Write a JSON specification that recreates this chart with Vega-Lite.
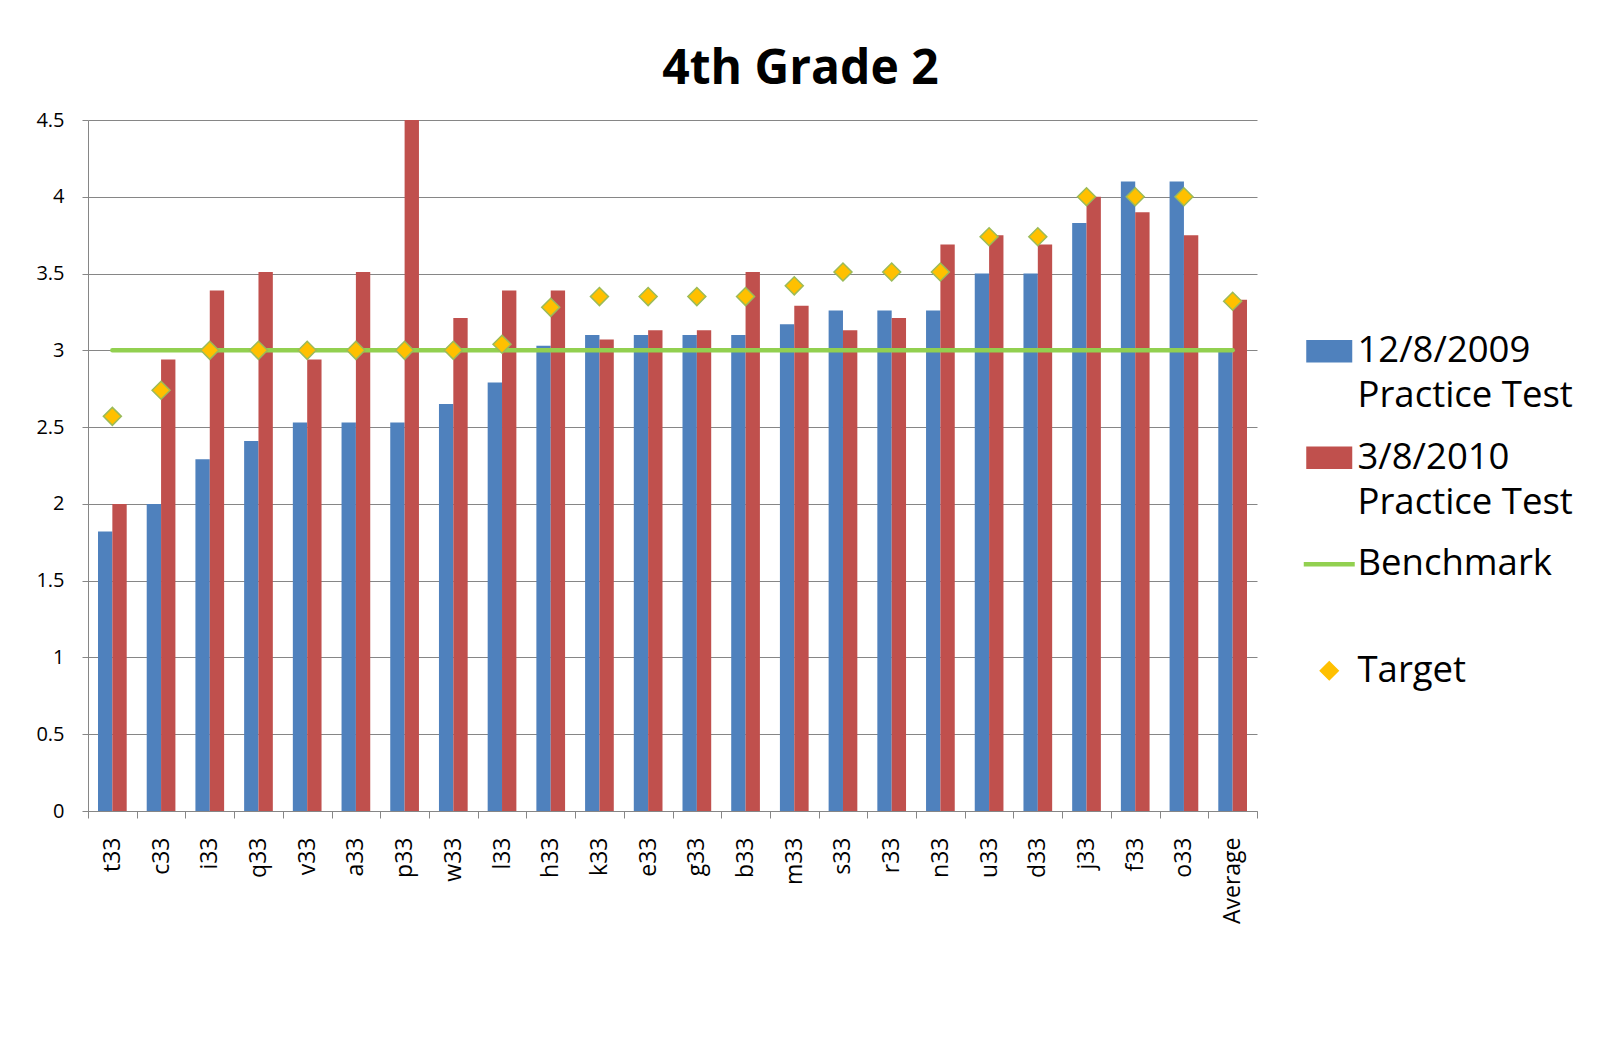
{
  "$schema": "https://vega.github.io/schema/vega-lite/v6.json",
  "width": 1169,
  "height": 691,
  "autosize": {"type": "none"},
  "padding": {"left": 88, "top": 120, "right": 362, "bottom": 228},
  "background": "white",
  "title": {"text": "4th Grade 2", "font": "Open Sans", "fontSize": 48, "fontWeight": "bold", "color": "black", "anchor": "middle", "dx": 128, "dy": 59, "baseline": "alphabetic", "offset": 37},
  "datasets": {
    "bars": [
      {"cat": "t33", "series": "12/8/2009 Practice Test", "score": 1.82},
      {"cat": "t33", "series": "3/8/2010 Practice Test", "score": 2.0},
      {"cat": "c33", "series": "12/8/2009 Practice Test", "score": 2.0},
      {"cat": "c33", "series": "3/8/2010 Practice Test", "score": 2.94},
      {"cat": "i33", "series": "12/8/2009 Practice Test", "score": 2.29},
      {"cat": "i33", "series": "3/8/2010 Practice Test", "score": 3.39},
      {"cat": "q33", "series": "12/8/2009 Practice Test", "score": 2.41},
      {"cat": "q33", "series": "3/8/2010 Practice Test", "score": 3.51},
      {"cat": "v33", "series": "12/8/2009 Practice Test", "score": 2.53},
      {"cat": "v33", "series": "3/8/2010 Practice Test", "score": 2.94},
      {"cat": "a33", "series": "12/8/2009 Practice Test", "score": 2.53},
      {"cat": "a33", "series": "3/8/2010 Practice Test", "score": 3.51},
      {"cat": "p33", "series": "12/8/2009 Practice Test", "score": 2.53},
      {"cat": "p33", "series": "3/8/2010 Practice Test", "score": 4.5},
      {"cat": "w33", "series": "12/8/2009 Practice Test", "score": 2.65},
      {"cat": "w33", "series": "3/8/2010 Practice Test", "score": 3.21},
      {"cat": "l33", "series": "12/8/2009 Practice Test", "score": 2.79},
      {"cat": "l33", "series": "3/8/2010 Practice Test", "score": 3.39},
      {"cat": "h33", "series": "12/8/2009 Practice Test", "score": 3.03},
      {"cat": "h33", "series": "3/8/2010 Practice Test", "score": 3.39},
      {"cat": "k33", "series": "12/8/2009 Practice Test", "score": 3.1},
      {"cat": "k33", "series": "3/8/2010 Practice Test", "score": 3.07},
      {"cat": "e33", "series": "12/8/2009 Practice Test", "score": 3.1},
      {"cat": "e33", "series": "3/8/2010 Practice Test", "score": 3.13},
      {"cat": "g33", "series": "12/8/2009 Practice Test", "score": 3.1},
      {"cat": "g33", "series": "3/8/2010 Practice Test", "score": 3.13},
      {"cat": "b33", "series": "12/8/2009 Practice Test", "score": 3.1},
      {"cat": "b33", "series": "3/8/2010 Practice Test", "score": 3.51},
      {"cat": "m33", "series": "12/8/2009 Practice Test", "score": 3.17},
      {"cat": "m33", "series": "3/8/2010 Practice Test", "score": 3.29},
      {"cat": "s33", "series": "12/8/2009 Practice Test", "score": 3.26},
      {"cat": "s33", "series": "3/8/2010 Practice Test", "score": 3.13},
      {"cat": "r33", "series": "12/8/2009 Practice Test", "score": 3.26},
      {"cat": "r33", "series": "3/8/2010 Practice Test", "score": 3.21},
      {"cat": "n33", "series": "12/8/2009 Practice Test", "score": 3.26},
      {"cat": "n33", "series": "3/8/2010 Practice Test", "score": 3.69},
      {"cat": "u33", "series": "12/8/2009 Practice Test", "score": 3.5},
      {"cat": "u33", "series": "3/8/2010 Practice Test", "score": 3.75},
      {"cat": "d33", "series": "12/8/2009 Practice Test", "score": 3.5},
      {"cat": "d33", "series": "3/8/2010 Practice Test", "score": 3.69},
      {"cat": "j33", "series": "12/8/2009 Practice Test", "score": 3.83},
      {"cat": "j33", "series": "3/8/2010 Practice Test", "score": 4.0},
      {"cat": "f33", "series": "12/8/2009 Practice Test", "score": 4.1},
      {"cat": "f33", "series": "3/8/2010 Practice Test", "score": 3.9},
      {"cat": "o33", "series": "12/8/2009 Practice Test", "score": 4.1},
      {"cat": "o33", "series": "3/8/2010 Practice Test", "score": 3.75},
      {"cat": "Average", "series": "12/8/2009 Practice Test", "score": 3.0},
      {"cat": "Average", "series": "3/8/2010 Practice Test", "score": 3.33}
    ],
    "goals": [
      {"cat": "t33", "target": 2.57, "benchmark": 3},
      {"cat": "c33", "target": 2.74, "benchmark": 3},
      {"cat": "i33", "target": 3.0, "benchmark": 3},
      {"cat": "q33", "target": 3.0, "benchmark": 3},
      {"cat": "v33", "target": 3.0, "benchmark": 3},
      {"cat": "a33", "target": 3.0, "benchmark": 3},
      {"cat": "p33", "target": 3.0, "benchmark": 3},
      {"cat": "w33", "target": 3.0, "benchmark": 3},
      {"cat": "l33", "target": 3.04, "benchmark": 3},
      {"cat": "h33", "target": 3.28, "benchmark": 3},
      {"cat": "k33", "target": 3.35, "benchmark": 3},
      {"cat": "e33", "target": 3.35, "benchmark": 3},
      {"cat": "g33", "target": 3.35, "benchmark": 3},
      {"cat": "b33", "target": 3.35, "benchmark": 3},
      {"cat": "m33", "target": 3.42, "benchmark": 3},
      {"cat": "s33", "target": 3.51, "benchmark": 3},
      {"cat": "r33", "target": 3.51, "benchmark": 3},
      {"cat": "n33", "target": 3.51, "benchmark": 3},
      {"cat": "u33", "target": 3.74, "benchmark": 3},
      {"cat": "d33", "target": 3.74, "benchmark": 3},
      {"cat": "j33", "target": 4.0, "benchmark": 3},
      {"cat": "f33", "target": 4.0, "benchmark": 3},
      {"cat": "o33", "target": 4.0, "benchmark": 3},
      {"cat": "Average", "target": 3.32, "benchmark": 3}
    ]
  },
  "layer": [
    {
      "data": {"name": "bars"},
      "mark": {"type": "bar"},
      "encoding": {
        "x": {
          "field": "cat", "type": "nominal", "title": null,
          "scale": {"domain": ["t33","c33","i33","q33","v33","a33","p33","w33","l33","h33","k33","e33","g33","b33","m33","s33","r33","n33","u33","d33","j33","f33","o33","Average"], "paddingInner": 0, "paddingOuter": 0},
          "axis": {"labelAngle": -90, "labelFont": "Open Sans", "labelFontSize": 23, "labelColor": "black", "labelPadding": 19, "tickSize": 7, "tickBand": "extent", "domainColor": "#868686", "tickColor": "#868686", "grid": false}
        },
        "xOffset": {"field": "series", "type": "nominal", "scale": {"domain": ["12/8/2009 Practice Test", "3/8/2010 Practice Test"], "paddingInner": 0, "paddingOuter": 0.697}},
        "y": {
          "field": "score", "type": "quantitative", "title": null,
          "scale": {"domain": [0, 4.5], "nice": false, "zero": true},
          "axis": {"values": [0, 0.5, 1, 1.5, 2, 2.5, 3, 3.5, 4, 4.5], "format": "~g", "grid": true, "gridColor": "#868686", "domainColor": "#868686", "tickColor": "#868686", "tickSize": 6, "labelPadding": 18, "labelFont": "Open Sans", "labelFontSize": 20, "labelColor": "black"}
        },
        "color": {
          "field": "series", "type": "nominal",
          "scale": {"domain": ["12/8/2009 Practice Test", "3/8/2010 Practice Test", "Benchmark", "Target"], "range": ["#4F81BD", "#C0504D", "#92D050", "#FFC000"]},
          "legend": {
            "orient": "none", "legendX": 1223, "legendY": 213, "title": null, "padding": 0,
            "labelFont": "Open Sans", "labelFontSize": 36.5, "labelColor": "black", "labelLimit": 600,
            "labelOffset": 10, "rowPadding": 24.5, "symbolSize": 2601, "labelBaseline": "middle",
            "labelExpr": "(datum.label == 'Benchmark' || datum.label == 'Target') ? [datum.label, ' '] : [replace(datum.label, ' Practice Test', ''), 'Practice Test']",
            "encode": {
              "labels": {"update": {"lineHeight": {"value": 45}}},
              "symbols": {"update": {
                "shape": {"signal": "datum.value == 'Target' ? 'diamond' : (datum.value == 'Benchmark' ? 'stroke' : 'M-1,-0.49H1V0.49H-1Z')"},
                "size": {"signal": "datum.value == 'Target' ? 324 : (datum.value == 'Benchmark' ? 2601 : 2116)"},
                "fill": {"signal": "datum.value == 'Benchmark' ? 'transparent' : (datum.value == 'Target' ? '#FFC000' : (datum.value == '12/8/2009 Practice Test' ? '#4F81BD' : '#C0504D'))"},
                "stroke": {"signal": "datum.value == 'Benchmark' ? '#92D050' : (datum.value == 'Target' ? '#9BBB59' : 'transparent')"},
                "strokeWidth": {"signal": "datum.value == 'Benchmark' ? 4.5 : (datum.value == 'Target' ? 1.5 : 0)"},
                "opacity": {"value": 1},
                "fillOpacity": {"value": 1},
                "strokeOpacity": {"value": 1}
              }}
            }
          }
        }
      }
    },
    {
      "data": {"name": "goals"},
      "mark": {"type": "line", "strokeWidth": 4.5, "strokeCap": "round"},
      "encoding": {
        "x": {"field": "cat", "type": "nominal"},
        "y": {"field": "benchmark", "type": "quantitative"},
        "color": {"datum": "Benchmark"}
      }
    },
    {
      "data": {"name": "goals"},
      "mark": {"type": "point", "shape": "diamond", "filled": true, "size": 324, "stroke": "#9BBB59", "strokeWidth": 1.5, "opacity": 1},
      "encoding": {
        "x": {"field": "cat", "type": "nominal"},
        "y": {"field": "target", "type": "quantitative"},
        "color": {"datum": "Target"}
      }
    }
  ],
  "config": {"view": {"stroke": null}, "font": "Open Sans"}
}
